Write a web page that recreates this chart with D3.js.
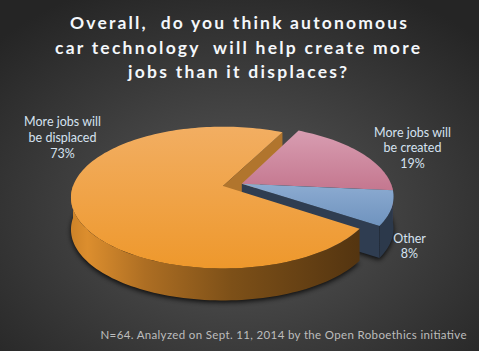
<!DOCTYPE html>
<html>
<head>
<meta charset="utf-8">
<script src="https://cdn.jsdelivr.net/npm/d3@7"></script>
<style>
  html, body { margin: 0; padding: 0; background: #2a2a2a; }
  svg { display: block; }
</style>
</head>
<body>
<div id="chart"></div>
<script>
// Survey answers, in the order Excel draws them (clockwise from the first slice)
const categories = ['More jobs will be created', 'Other', 'More jobs will be displaced'];
const values = [19, 8, 73];
const labelLines = [
    ['More jobs will', 'be created', '19%'],
    ['Other', '8%'],
    ['More jobs will', 'be displaced', '73%']
];
const explodedSlices = [true, true, false];
const titleLines = [
    'Overall,  do you think autonomous',
    'car technology  will help create more',
    'jobs than it displaces?'
];
const footnote = 'N=64. Analyzed on Sept. 11, 2014 by the Open Roboethics initiative';

const width = 479, height = 351;

// 3D pie geometry (projected disc)
const pie3d = {cx: 223, cy: 186, rx: 150, ry: 69, k: 0.163, depth: 32, explode: 0.13, firstAngle: 27};

const topColors = [['#d89db1', '#c4778f'], ['#8cabd1', '#6f93be'], ['#f2ae62', '#ee982c']];
const sideColors = ['#8c5a6a', '#2c394b', null];
const faceColors = ['#7a4e5c', '#2f3d51', '#b1752d'];

// label anchors (centre x, first baseline)
const labelPos = [[412.5, 136.5], [409.5, 242.5], [62.5, 126]];
// title line extents
const titleSpan = [[70, 407], [55, 420], [128, 347]];

const svg = d3.select('#chart').append('svg')
    .attr('width', width)
    .attr('height', height);

const defs = svg.append('defs');

let bg = defs.append('radialGradient')
    .attr('id', 'bg')
    .attr('cx', '50%').attr('cy', '60%').attr('r', '70%');
bg.append('stop').attr('offset', '0%').attr('stop-color', '#585858');
bg.append('stop').attr('offset', '100%').attr('stop-color', '#252525');

svg.append('rect')
    .attr('width', width)
    .attr('height', height)
    .attr('fill', 'url(#bg)');

topColors.forEach((c, i) => {
    let g = defs.append('linearGradient')
        .attr('id', 'top' + i)
        .attr('x1', 0).attr('y1', 0).attr('x2', 0).attr('y2', 1);
    g.append('stop').attr('offset', '0%').attr('stop-color', c[0]);
    g.append('stop').attr('offset', '100%').attr('stop-color', c[1]);
});

// orange side shading, light on the left, dark on the right
let sideGrad = defs.append('linearGradient')
    .attr('id', 'side2')
    .attr('gradientUnits', 'userSpaceOnUse')
    .attr('x1', pie3d.cx - pie3d.rx).attr('y1', 0)
    .attr('x2', pie3d.cx + pie3d.rx * 0.92).attr('y2', 0);
[['0%', '#cf8429'], ['5%', '#dc8e2e'], ['25%', '#ad6e23'], ['55%', '#7d5018'], ['100%', '#533410']]
    .forEach(s => sideGrad.append('stop').attr('offset', s[0]).attr('stop-color', s[1]));

let shadow = defs.append('filter')
    .attr('id', 'shadow')
    .attr('x', '-20%').attr('y', '-20%').attr('width', '140%').attr('height', '140%');
shadow.append('feGaussianBlur').attr('stdDeviation', 2.5);

// project a point on the disc (angle clockwise from 12 o'clock, radius fraction) to the screen
function project(theta, r, off, h) {
    let u = off[0] + r * Math.sin(theta);
    let v = off[1] - r * Math.cos(theta);
    let s = 1 - pie3d.k * v;
    return [pie3d.cx + pie3d.rx * u / s, pie3d.cy + pie3d.ry * v / s + h * pie3d.depth];
}

function arcPoints(a0, a1, off, h) {
    let n = Math.max(2, Math.ceil(Math.abs(a1 - a0) / 0.03));
    let pts = [];
    for (let i = 0; i <= n; i++) {
        pts.push(project(a0 + (a1 - a0) * i / n, 1, off, h));
    }
    return pts;
}

const line = d3.line();

const arcs = d3.pie()
    .sort(null)
    .startAngle(pie3d.firstAngle * Math.PI / 180)
    .endAngle(pie3d.firstAngle * Math.PI / 180 + 2 * Math.PI)(values);

// exploded slices move together along the bisector of their joint span
let expArcs = arcs.filter((d, i) => explodedSlices[i]);
let expMid = (d3.min(expArcs, d => d.startAngle) + d3.max(expArcs, d => d.endAngle)) / 2;
let expOff = [pie3d.explode * Math.sin(expMid), -pie3d.explode * Math.cos(expMid)];

arcs.forEach((d, i) => {
    d.off = explodedSlices[i] ? expOff : [0, 0];
    d.index = i;
});

// visible part of the outer wall: angles facing the viewer (between 90 and 270 degrees)
function frontSpan(d) {
    let lo = Math.PI / 2, hi = 3 * Math.PI / 2;
    for (let shift of [0, 2 * Math.PI]) {
        let a0 = Math.max(d.startAngle, lo + shift), a1 = Math.min(d.endAngle, hi + shift);
        if (a1 > a0) return [a0, a1];
    }
    return null;
}

function sidePath(d) {
    let span = frontSpan(d);
    if (!span) return null;
    let topPts = arcPoints(span[0], span[1], d.off, 0);
    let botPts = arcPoints(span[1], span[0], d.off, 1);
    return line(topPts.concat(botPts)) + 'Z';
}

function topPath(d) {
    let c = project(0, 0, d.off, 0);
    return line([c].concat(arcPoints(d.startAngle, d.endAngle, d.off, 0))) + 'Z';
}

// radial wall along one edge of a slice
function facePath(d, angle) {
    let c0 = project(0, 0, d.off, 0), c1 = project(0, 0, d.off, 1);
    let r0 = project(angle, 1, d.off, 0), r1 = project(angle, 1, d.off, 1);
    return line([c0, r0, r1, c1]) + 'Z';
}

const big = arcs[2];
const small = arcs.filter((d, i) => explodedSlices[i]);

// soft shadow under the whole pie
let shadowG = svg.append('g')
    .attr('filter', 'url(#shadow)')
    .attr('transform', 'translate(0,2)')
    .style('fill', '#000')
    .style('opacity', 0.8);
arcs.forEach(d => {
    shadowG.append('path')
        .attr('d', line([project(0, 0, d.off, 1)].concat(arcPoints(d.startAngle, d.endAngle, d.off, 1))) + 'Z');
});

let pieG = svg.append('g').classed('pie', true);

// wall of the big slice behind the exploded group
pieG.append('path')
    .attr('d', facePath(big, big.endAngle))
    .style('fill', faceColors[2]);

// exploded group: end wall, outer walls, tops
let lastSmall = small[small.length - 1];
pieG.append('path')
    .attr('d', facePath(lastSmall, lastSmall.endAngle))
    .style('fill', faceColors[lastSmall.index]);

pieG.selectAll('path.sideSmall')
    .data(small)
    .enter().append('path')
    .classed('sideSmall', true)
    .attr('d', d => sidePath(d))
    .style('fill', d => sideColors[d.index]);

pieG.selectAll('path.topSmall')
    .data(small)
    .enter().append('path')
    .classed('topSmall', true)
    .attr('d', d => topPath(d))
    .style('fill', d => 'url(#top' + d.index + ')');

// big slice in front
pieG.append('path')
    .attr('d', sidePath(big))
    .style('fill', 'url(#side2)');

pieG.append('path')
    .attr('d', topPath(big))
    .style('fill', 'url(#top2)');

// Title
svg.append('g')
    .selectAll('text')
    .data(titleLines)
    .enter().append('text')
    .attr('x', (d, i) => (titleSpan[i][0] + titleSpan[i][1]) / 2)
    .attr('y', (d, i) => 29 + i * 24.5)
    .attr('text-anchor', 'middle')
    .attr('textLength', (d, i) => titleSpan[i][1] - titleSpan[i][0])
    .attr('lengthAdjust', 'spacing')
    .style('white-space', 'pre')
    .style('font-family', 'Lato, "Open Sans", sans-serif')
    .style('font-weight', 'bold')
    .style('font-size', '17.5px')
    .style('fill', '#f4f7fb')
    .text(d => d);

// Data labels
labelLines.forEach((lines, i) => {
    svg.append('text')
        .attr('text-anchor', 'middle')
        .style('font-family', 'Lato, "Open Sans", sans-serif')
        .style('font-size', '12.5px')
        .style('fill', '#d5e2f0')
        .selectAll('tspan')
        .data(lines)
        .enter().append('tspan')
        .attr('x', labelPos[i][0])
        .attr('y', (d, j) => labelPos[i][1] + j * 15.8)
        .text(d => d);
});

// Footnote
svg.append('text')
    .attr('x', 283.5)
    .attr('y', 338.5)
    .attr('text-anchor', 'middle')
    .attr('textLength', 366)
    .attr('lengthAdjust', 'spacing')
    .style('font-family', 'Lato, "Open Sans", sans-serif')
    .style('font-size', '11.5px')
    .style('fill', '#bdbdbd')
    .text(footnote);
</script>
</body>
</html>
